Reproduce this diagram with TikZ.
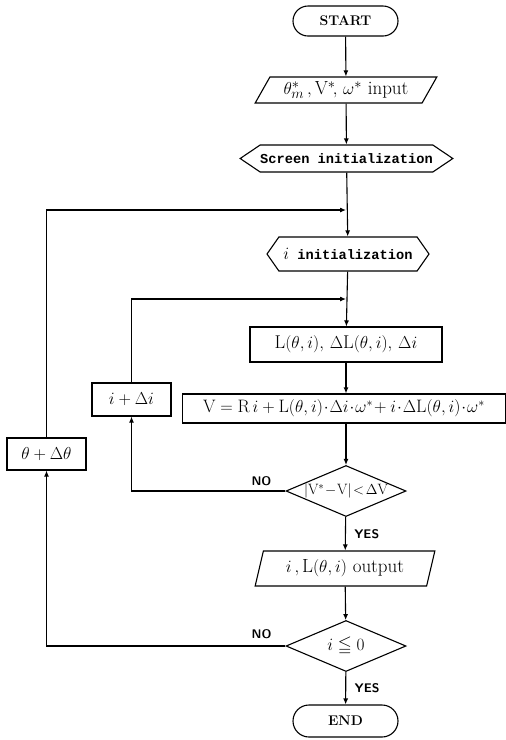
\documentclass[tikz,border=0pt]{standalone}
\usepackage{amssymb}
\usepackage{fontspec}
\newfontfamily\monof{Liberation Mono}
\usetikzlibrary{shapes.geometric,shapes.symbols,shapes.misc,arrows.meta}
\newcommand{\Lt}{\mathrm{L}}
\newcommand{\Vt}{\mathrm{V}}
\begin{document}
\begin{tikzpicture}[x=1pt,y=-1pt,
  line width=1.1pt,
  >={Latex[length=6pt,width=5pt]},
  fs/.style={font=\fontsize{#1}{#1}\selectfont},
  term/.style={draw, rounded rectangle, minimum width=105pt, minimum height=30pt, inner sep=0pt, font=\bfseries\fontsize{14}{16}\selectfont},
  io/.style={draw, trapezium, trapezium stretches=true, trapezium left angle=#1, trapezium right angle=180-#1, inner sep=0pt},
  prep/.style={draw, signal, signal to=west and east, signal pointer angle=#1, inner sep=0pt, font=\monof\bfseries\fontsize{13.7}{16}\selectfont},
  proc/.style={draw, rectangle, inner sep=0pt},
  dec/.style={draw, diamond, inner sep=0pt, minimum width=120pt, minimum height=51pt},
  lab/.style={font=\sffamily\bfseries\fontsize{12.5}{14}\selectfont},
  flow/.style={->}
]
\useasboundingbox (0,0) rectangle (506,740);

\node[term] (start) at (345.5,21) {START};
\node[io=55, minimum width=182pt, minimum height=26pt, fs=19] (in) at (346,90) {$\theta^{*}_{m}\,,\Vt^{*}\!,\,\omega^{*}$ input};
\node[prep=68, minimum width=207pt, minimum height=27pt] (scr) at (346.5,158.5) {Screen initialization};
\node[prep=110, minimum width=162pt, minimum height=34pt] (ii) at (348,254) {{\normalfont\fontsize{16}{16}\selectfont$i$} initialization};
\node[proc, minimum width=192pt, minimum height=35pt, fs=18.5] (lb) at (346,344.5) {$\Lt(\theta,i),\,\Delta \Lt(\theta,i),\,\Delta i$};
\node[proc, minimum width=323pt, minimum height=29pt, fs=18] (vb) at (344,408.5) {$\Vt=\mathrm{R}\,i+\Lt(\theta,i)\!\cdot\!\Delta i\!\cdot\!\omega^{*}\!+i\!\cdot\!\Delta \Lt(\theta,i)\!\cdot\!\omega^{*}$};
\node[dec, fs=15] (d1) at (346,491) {\makebox[0pt]{$|\Vt^{*}\!-\!\Vt|\!<\!\Delta \Vt$}};
\node[io=71, minimum width=180pt, minimum height=35pt, fs=19] (out) at (345,568.5) {$i\,,\Lt(\theta,i)$ output};
\node[dec, fs=18] (d2) at (346,646) {\makebox[0pt]{$i\leqq 0$}};
\node[term, minimum height=32pt] (end) at (345.5,721) {END};

\node[proc, minimum width=79pt, minimum height=33pt, fs=18.5] (ipd) at (131.5,399.5) {$i+\Delta i$};
\node[proc, minimum width=79pt, minimum height=32pt, fs=17.5] (tpd) at (46.5,454) {$\theta+\Delta\theta$};

\coordinate (j1) at (346,210);
\coordinate (j2) at (346,299);

\draw[flow] (start) -- (in);
\draw[flow] (in) -- (scr);
\draw[flow] (scr) -- (ii);
\draw[flow] (ii) -- (lb);
\draw[flow] (lb.south) -- (lb.south |- vb.north);
\draw[flow] (vb.south -| d1.north) -- (d1.north);
\draw[flow] (d1) -- node[lab, right, xshift=5pt] {YES} (out);
\draw[flow] (out) -- (d2);
\draw[flow] (d2) -- node[lab, right, xshift=5pt] {YES} (end);

\draw[flow] (d1.west) -- node[lab, above, pos=0.156, yshift=1pt] {NO} (d1.west -| ipd.south) -- (ipd.south);
\draw[flow] (ipd.north) |- (j2);
\draw[flow] (d2.west) -- node[lab, above, pos=0.1, yshift=3pt] {NO} (d2.west -| tpd.south) -- (tpd.south);
\draw[flow] (tpd.north) |- (j1);
\end{tikzpicture}
\end{document}
